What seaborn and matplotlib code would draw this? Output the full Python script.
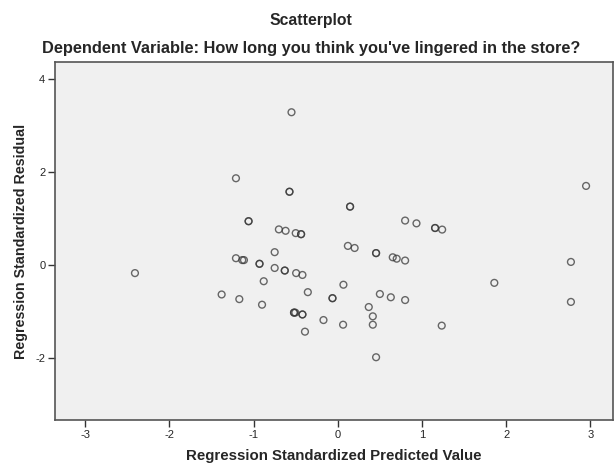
import matplotlib
matplotlib.use("Agg")
import matplotlib.pyplot as plt
import seaborn as sns
import pandas as pd

predicted = [-0.55, -1.21, -0.574, -0.574, -1.06, -1.06, -0.70, -0.62, -0.50, -0.436, -0.436,
             2.95, 0.146, 0.146, 0.80, 0.935, 1.156, 1.156, 1.24,
             -2.41, -0.75, -1.21, -1.135, -1.115, -0.93, -0.93, -0.75, -0.63, -0.63, -0.495, -0.42,
             -0.88, -0.356, -0.063, -0.063, -1.38, -1.17, -0.90, -0.52, -0.52, -0.505, -0.42, -0.42,
             -0.17, -0.39,
             0.12, 0.20, 0.455, 0.455, 0.653, 0.70, 0.80, 2.77, 1.86, 0.067, 0.50, 0.63, 0.80,
             2.77, 0.368, 0.416, 0.063, 0.416, 1.235, 0.455]
residual = [3.29, 1.87, 1.58, 1.58, 0.946, 0.946, 0.77, 0.74, 0.69, 0.667, 0.667,
            1.705, 1.26, 1.26, 0.96, 0.90, 0.80, 0.80, 0.766,
            -0.17, 0.28, 0.15, 0.11, 0.11, 0.03, 0.03, -0.06, -0.115, -0.115, -0.17, -0.21,
            -0.345, -0.58, -0.71, -0.71, -0.63, -0.73, -0.85, -1.02, -1.02, -1.02, -1.06, -1.06,
            -1.18, -1.43,
            0.415, 0.37, 0.26, 0.26, 0.17, 0.14, 0.10, 0.07, -0.38, -0.42, -0.62, -0.69, -0.75,
            -0.79, -0.90, -1.10, -1.28, -1.28, -1.30, -1.98]

x_ticks = [-3, -2, -1, 0, 1, 2, 3]
y_ticks = [-2, 0, 2, 4]

df = pd.DataFrame({"pred": predicted, "resid": residual})

sns.set_style("white")
plt.rcParams["font.family"] = ["Liberation Sans", "DejaVu Sans"]

fig = plt.figure(figsize=(6.15, 4.65), dpi=100)
ax = fig.add_axes([55 / 615, 1 - 420 / 465, (613 - 55) / 615, (420 - 62.5) / 465])
ax.set_facecolor("#f0f0f0")

sns.scatterplot(data=df, x="pred", y="resid", ax=ax, s=24, marker="o",
                facecolors="none", edgecolor=(0.22, 0.22, 0.22, 0.75), linewidth=1.0)

ax.set_xlim(-3.36, 3.27)
ax.set_ylim(-3.33, 4.36)
ax.set_xticks(x_ticks)
ax.set_yticks(y_ticks)
ax.set_xticklabels([str(t) for t in x_ticks])
ax.set_yticklabels([str(t) for t in y_ticks])
ax.tick_params(axis="both", direction="out", length=5, width=1, color="#333333",
               labelsize=8, pad=2, bottom=True, left=True)
for side in ["top", "right", "bottom", "left"]:
    ax.spines[side].set_color("#555555")
    ax.spines[side].set_linewidth(1.2)

ax.set_xlabel("Regression Standardized Predicted Value", fontsize=10.8, fontweight="bold", labelpad=7)
ax.set_ylabel("Regression Standardized Residual", fontsize=10.3, fontweight="bold", labelpad=5)

fig.text(311 / 615, 1 - 20 / 465, "Scatterplot", ha="center", va="center",
         fontsize=11.3, fontweight="bold")
fig.text(311 / 615, 1 - 48 / 465,
         "Dependent Variable: How long you think you've lingered in the store?",
         ha="center", va="center", fontsize=11.8, fontweight="bold")

fig.savefig("out.png", dpi=100, facecolor="white")
